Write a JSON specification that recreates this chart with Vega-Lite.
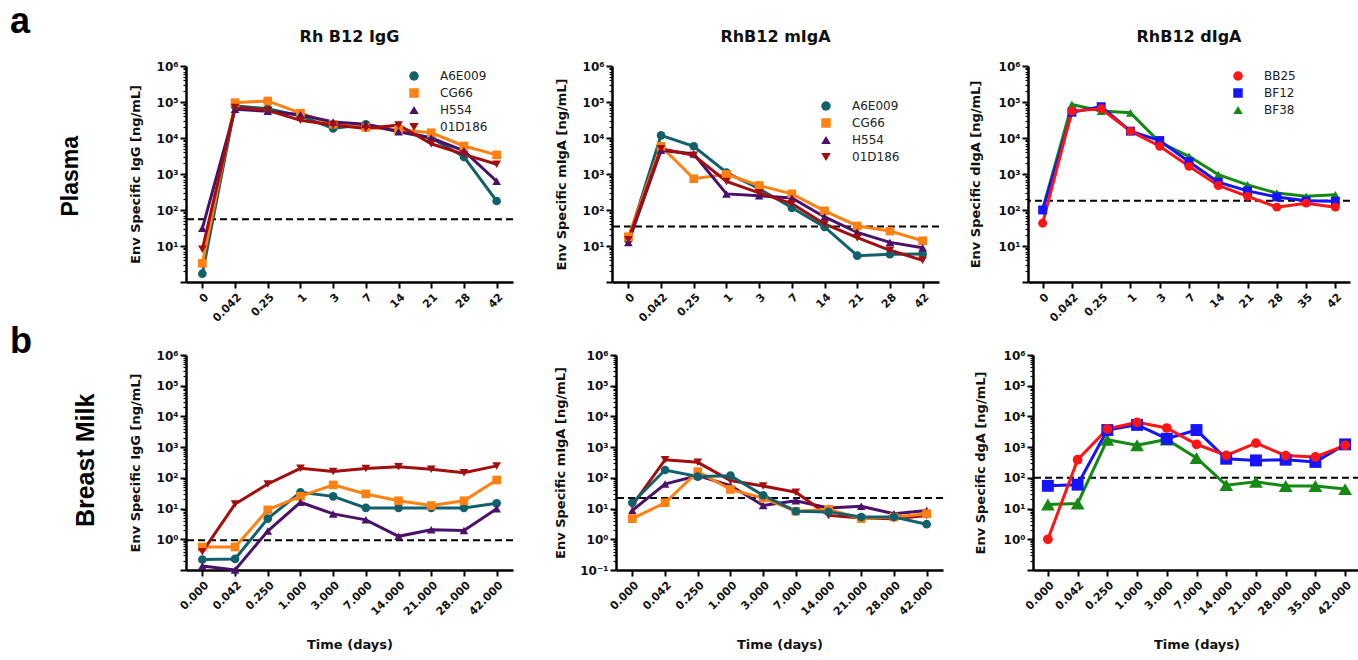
{
"$schema": "https://vega.github.io/schema/vega-lite/v6.json",
"padding": {"left": 10, "top": 4, "right": 0, "bottom": 0},
"config": {
  "view": {"stroke": null},
  "axis": {"grid": false, "domainColor": "#000", "domainWidth": 2.5, "tickColor": "#000", "labelColor": "#111", "labelFont": "DejaVu Sans", "labelFontWeight": "bold", "labelFontSize": 11, "titleFont": "DejaVu Sans", "titleFontSize": 13, "titleFontWeight": "bold", "titleColor": "#111", "labelOverlap": false},
  "axisY": {"labelFontSize": 12},
  "title": {"font": "DejaVu Sans", "fontSize": 16, "fontWeight": "bold", "color": "#111", "offset": 15},
  "legend": {"labelFont": "DejaVu Sans", "labelFontSize": 12, "labelColor": "#222", "symbolOpacity": 1, "symbolStrokeWidth": 0}
},
"spacing": 0,
"resolve": {"scale": {"color": "independent", "shape": "independent", "size": "independent"}, "legend": {"color": "independent", "shape": "independent", "size": "independent"}},
"vconcat": [
{
  "title": {"text": "a", "anchor": "start", "font": "Liberation Sans", "fontSize": 36, "fontWeight": "bold", "color": "#000", "offset": -12, "dx": -50},
  "resolve": {"scale": {"color": "independent", "shape": "independent", "size": "independent"}, "legend": {"color": "independent", "shape": "independent", "size": "independent"}},
  "vconcat": [{
    "title": {"text": "Plasma", "orient": "left", "anchor": "middle", "font": "Liberation Sans", "fontSize": 23, "fontWeight": "bold", "color": "#000", "offset": 46},
    "spacing": 41,
    "resolve": {"scale": {"color": "independent", "shape": "independent", "size": "independent"}, "legend": {"color": "independent", "shape": "independent", "size": "independent"}},
    "hconcat": [
    {
      "width": 327, "height": 216,
      "title": "Rh B12 IgG",
      "data": {"values": [
        {"t":"0","id":"A6E009","v":1.7},{"t":"0.042","id":"A6E009","v":78000},{"t":"0.25","id":"A6E009","v":65000},{"t":"1","id":"A6E009","v":41000},{"t":"3","id":"A6E009","v":18500},{"t":"7","id":"A6E009","v":24000},{"t":"14","id":"A6E009","v":16000},{"t":"21","id":"A6E009","v":10000},{"t":"28","id":"A6E009","v":3000},{"t":"42","id":"A6E009","v":178},
        {"t":"0","id":"CG66","v":3.3},{"t":"0.042","id":"CG66","v":96000},{"t":"0.25","id":"CG66","v":107000},{"t":"1","id":"CG66","v":49000},{"t":"3","id":"CG66","v":24000},{"t":"7","id":"CG66","v":19500},{"t":"14","id":"CG66","v":17000},{"t":"21","id":"CG66","v":14000},{"t":"28","id":"CG66","v":6000},{"t":"42","id":"CG66","v":3400},
        {"t":"0","id":"H554","v":31},{"t":"0.042","id":"H554","v":63000},{"t":"0.25","id":"H554","v":55000},{"t":"1","id":"H554","v":44000},{"t":"3","id":"H554","v":28000},{"t":"7","id":"H554","v":24000},{"t":"14","id":"H554","v":15000},{"t":"21","id":"H554","v":10000},{"t":"28","id":"H554","v":4400},{"t":"42","id":"H554","v":630},
        {"t":"0","id":"01D186","v":8.1},{"t":"0.042","id":"01D186","v":70000},{"t":"0.25","id":"01D186","v":59000},{"t":"1","id":"01D186","v":31000},{"t":"3","id":"01D186","v":23000},{"t":"7","id":"01D186","v":18500},{"t":"14","id":"01D186","v":23000},{"t":"21","id":"01D186","v":6900},{"t":"28","id":"01D186","v":3500},{"t":"42","id":"01D186","v":1860}
      ]},
      "encoding": {"y": {"field": "v", "type": "quantitative", "scale": {"type": "log", "domain": [1, 1000000], "nice": false},
        "axis": {"title": "Env Specific IgG [ng/mL]", "titlePadding": 14,
          "values": [1,2,3,4,5,6,7,8,9,10,20,30,40,50,60,70,80,90,100,200,300,400,500,600,700,800,900,1000,2000,3000,4000,5000,6000,7000,8000,9000,10000,20000,30000,40000,50000,60000,70000,80000,90000,100000,200000,300000,400000,500000,600000,700000,800000,900000,1000000],
          "labelExpr": "abs(log(datum.value)/LN10-round(log(datum.value)/LN10))<0.001 && datum.value>9 ? '10'+['⁻¹','⁰','¹','²','³','⁴','⁵','⁶'][round(log(datum.value)/LN10)+1] : ''",
          "tickSize": {"condition": {"test": "abs(log(datum.value)/LN10-round(log(datum.value)/LN10))<0.001", "value": 6}, "value": 3},
          "tickWidth": {"condition": {"test": "abs(log(datum.value)/LN10-round(log(datum.value)/LN10))<0.001", "value": 2}, "value": 1.2}}}},
      "layer": [
        {"data": {"values": [{"v": 55}]}, "mark": {"type": "rule", "strokeDash": [7, 4], "strokeWidth": 2, "color": "#000"}},
        {"mark": {"type": "line", "strokeWidth": 3},
         "encoding": {"x": {"field": "t", "type": "ordinal", "sort": ["0","0.042","0.25","1","3","7","14","21","28","42"], "scale": {"type": "point", "padding": 0.5}, "axis": {"title": null, "labelAngle": -45, "tickSize": 6, "tickWidth": 2, "labelPadding": 3}},
          "color": {"field": "id", "type": "nominal", "scale": {"domain": ["A6E009","CG66","H554","01D186"], "range": ["#12606b","#ff8112","#4a106a","#a30d0d"]},
            "legend": {"title": null, "orient": "none", "legendX": 222, "legendY": 4, "padding": 0, "symbolSize": 90, "rowPadding": 5, "labelOffset": 20}}}},
        {"mark": {"type": "point", "filled": true, "opacity": 1, "size": 75},
         "encoding": {"x": {"field": "t", "type": "ordinal", "sort": ["0","0.042","0.25","1","3","7","14","21","28","42"], "scale": {"type": "point", "padding": 0.5}},
          "color": {"field": "id", "type": "nominal", "scale": {"domain": ["A6E009","CG66","H554","01D186"], "range": ["#12606b","#ff8112","#4a106a","#a30d0d"]},
            "legend": {"title": null, "orient": "none", "legendX": 222, "legendY": 4, "padding": 0, "symbolSize": 90, "rowPadding": 5, "labelOffset": 20}},
          "shape": {"field": "id", "type": "nominal", "scale": {"domain": ["A6E009","CG66","H554","01D186"], "range": ["circle","square","triangle-up","triangle-down"]}, "legend": null}}}
      ]
    },
    {
      "spacing": 29,
      "resolve": {"scale": {"color": "independent", "shape": "independent", "size": "independent"}, "legend": {"color": "independent", "shape": "independent", "size": "independent"}},
      "hconcat": [
      {
        "width": 327, "height": 216,
        "title": "RhB12 mIgA",
        "data": {"values": [
          {"t":"0","id":"A6E009","v":15},{"t":"0.042","id":"A6E009","v":11800},{"t":"0.25","id":"A6E009","v":5900},{"t":"1","id":"A6E009","v":1100},{"t":"3","id":"A6E009","v":390},{"t":"7","id":"A6E009","v":115},{"t":"14","id":"A6E009","v":34},{"t":"21","id":"A6E009","v":5.4},{"t":"28","id":"A6E009","v":5.9},{"t":"42","id":"A6E009","v":6.0},
          {"t":"0","id":"CG66","v":18},{"t":"0.042","id":"CG66","v":5900},{"t":"0.25","id":"CG66","v":740},{"t":"1","id":"CG66","v":980},{"t":"3","id":"CG66","v":480},{"t":"7","id":"CG66","v":280},{"t":"14","id":"CG66","v":95},{"t":"21","id":"CG66","v":36},{"t":"28","id":"CG66","v":26},{"t":"42","id":"CG66","v":14},
          {"t":"0","id":"H554","v":12.6},{"t":"0.042","id":"H554","v":4600},{"t":"0.25","id":"H554","v":3600},{"t":"1","id":"H554","v":280},{"t":"3","id":"H554","v":250},{"t":"7","id":"H554","v":215},{"t":"14","id":"H554","v":64},{"t":"21","id":"H554","v":24},{"t":"28","id":"H554","v":12.6},{"t":"42","id":"H554","v":9},
          {"t":"0","id":"01D186","v":15},{"t":"0.042","id":"01D186","v":5000},{"t":"0.25","id":"01D186","v":3300},{"t":"1","id":"01D186","v":620},{"t":"3","id":"01D186","v":300},{"t":"7","id":"01D186","v":150},{"t":"14","id":"01D186","v":41},{"t":"21","id":"01D186","v":17},{"t":"28","id":"01D186","v":7.6},{"t":"42","id":"01D186","v":4}
        ]},
        "encoding": {"y": {"field": "v", "type": "quantitative", "scale": {"type": "log", "domain": [1, 1000000], "nice": false},
          "axis": {"title": "Env Specific mIgA [ng/mL]", "titlePadding": 14,
            "values": [1,2,3,4,5,6,7,8,9,10,20,30,40,50,60,70,80,90,100,200,300,400,500,600,700,800,900,1000,2000,3000,4000,5000,6000,7000,8000,9000,10000,20000,30000,40000,50000,60000,70000,80000,90000,100000,200000,300000,400000,500000,600000,700000,800000,900000,1000000],
            "labelExpr": "abs(log(datum.value)/LN10-round(log(datum.value)/LN10))<0.001 && datum.value>9 ? '10'+['⁻¹','⁰','¹','²','³','⁴','⁵','⁶'][round(log(datum.value)/LN10)+1] : ''",
            "tickSize": {"condition": {"test": "abs(log(datum.value)/LN10-round(log(datum.value)/LN10))<0.001", "value": 6}, "value": 3},
            "tickWidth": {"condition": {"test": "abs(log(datum.value)/LN10-round(log(datum.value)/LN10))<0.001", "value": 2}, "value": 1.2}}}},
        "layer": [
          {"data": {"values": [{"v": 35}]}, "mark": {"type": "rule", "strokeDash": [7, 4], "strokeWidth": 2, "color": "#000"}},
          {"mark": {"type": "line", "strokeWidth": 3},
           "encoding": {"x": {"field": "t", "type": "ordinal", "sort": ["0","0.042","0.25","1","3","7","14","21","28","42"], "scale": {"type": "point", "padding": 0.5}, "axis": {"title": null, "labelAngle": -45, "tickSize": 6, "tickWidth": 2, "labelPadding": 3}},
            "color": {"field": "id", "type": "nominal", "scale": {"domain": ["A6E009","CG66","H554","01D186"], "range": ["#12606b","#ff8112","#4a106a","#a30d0d"]},
              "legend": {"title": null, "orient": "none", "legendX": 208, "legendY": 34, "padding": 0, "symbolSize": 90, "rowPadding": 5, "labelOffset": 20}}}},
          {"mark": {"type": "point", "filled": true, "opacity": 1, "size": 75},
           "encoding": {"x": {"field": "t", "type": "ordinal", "sort": ["0","0.042","0.25","1","3","7","14","21","28","42"], "scale": {"type": "point", "padding": 0.5}},
            "color": {"field": "id", "type": "nominal", "scale": {"domain": ["A6E009","CG66","H554","01D186"], "range": ["#12606b","#ff8112","#4a106a","#a30d0d"]},
              "legend": {"title": null, "orient": "none", "legendX": 208, "legendY": 34, "padding": 0, "symbolSize": 90, "rowPadding": 5, "labelOffset": 20}},
            "shape": {"field": "id", "type": "nominal", "scale": {"domain": ["A6E009","CG66","H554","01D186"], "range": ["circle","square","triangle-up","triangle-down"]}, "legend": null}}}
        ]
      },
      {
        "width": 322, "height": 216,
        "title": "RhB12 dIgA",
        "data": {"values": [
          {"t":"0","id":"BF38","v":105},{"t":"0.042","id":"BF38","v":85000},{"t":"0.25","id":"BF38","v":56000},{"t":"1","id":"BF38","v":50000},{"t":"3","id":"BF38","v":7600},{"t":"7","id":"BF38","v":3100},{"t":"14","id":"BF38","v":960},{"t":"21","id":"BF38","v":500},{"t":"28","id":"BF38","v":295},{"t":"35","id":"BF38","v":240},{"t":"42","id":"BF38","v":265},
          {"t":"0","id":"BF12","v":100},{"t":"0.042","id":"BF12","v":52000},{"t":"0.25","id":"BF12","v":74000},{"t":"1","id":"BF12","v":15500},{"t":"3","id":"BF12","v":8500},{"t":"7","id":"BF12","v":2200},{"t":"14","id":"BF12","v":590},{"t":"21","id":"BF12","v":340},{"t":"28","id":"BF12","v":230},{"t":"35","id":"BF12","v":180},{"t":"42","id":"BF12","v":175},
          {"t":"0","id":"BB25","v":43},{"t":"0.042","id":"BB25","v":56000},{"t":"0.25","id":"BB25","v":65000},{"t":"1","id":"BB25","v":15500},{"t":"3","id":"BB25","v":5900},{"t":"7","id":"BB25","v":1630},{"t":"14","id":"BB25","v":480},{"t":"21","id":"BB25","v":240},{"t":"28","id":"BB25","v":120},{"t":"35","id":"BB25","v":155},{"t":"42","id":"BB25","v":120}
        ]},
        "encoding": {"y": {"field": "v", "type": "quantitative", "scale": {"type": "log", "domain": [1, 1000000], "nice": false},
          "axis": {"title": "Env Specific dIgA  [ng/mL]", "titlePadding": 16,
            "values": [1,2,3,4,5,6,7,8,9,10,20,30,40,50,60,70,80,90,100,200,300,400,500,600,700,800,900,1000,2000,3000,4000,5000,6000,7000,8000,9000,10000,20000,30000,40000,50000,60000,70000,80000,90000,100000,200000,300000,400000,500000,600000,700000,800000,900000,1000000],
            "labelExpr": "abs(log(datum.value)/LN10-round(log(datum.value)/LN10))<0.001 && datum.value>9 ? '10'+['⁻¹','⁰','¹','²','³','⁴','⁵','⁶'][round(log(datum.value)/LN10)+1] : ''",
            "tickSize": {"condition": {"test": "abs(log(datum.value)/LN10-round(log(datum.value)/LN10))<0.001", "value": 6}, "value": 3},
            "tickWidth": {"condition": {"test": "abs(log(datum.value)/LN10-round(log(datum.value)/LN10))<0.001", "value": 2}, "value": 1.2}}}},
        "layer": [
          {"data": {"values": [{"v": 180}]}, "mark": {"type": "rule", "strokeDash": [7, 4], "strokeWidth": 2, "color": "#000"}},
          {"mark": {"type": "line", "strokeWidth": 3},
           "encoding": {"x": {"field": "t", "type": "ordinal", "sort": ["0","0.042","0.25","1","3","7","14","21","28","35","42"], "scale": {"type": "point", "padding": 0.5}, "axis": {"title": null, "labelAngle": -45, "tickSize": 6, "tickWidth": 2, "labelPadding": 3}},
            "color": {"field": "id", "type": "nominal", "scale": {"domain": ["BB25","BF12","BF38"], "range": ["#ff1414","#1414ff","#148a14"]},
              "legend": {"title": null, "orient": "none", "legendX": 204, "legendY": 4, "padding": 0, "symbolSize": 90, "rowPadding": 5, "labelOffset": 20}}}},
          {"mark": {"type": "point", "filled": true, "opacity": 1, "size": 80},
           "encoding": {"x": {"field": "t", "type": "ordinal", "sort": ["0","0.042","0.25","1","3","7","14","21","28","35","42"], "scale": {"type": "point", "padding": 0.5}},
            "color": {"field": "id", "type": "nominal", "scale": {"domain": ["BB25","BF12","BF38"], "range": ["#ff1414","#1414ff","#148a14"]},
              "legend": {"title": null, "orient": "none", "legendX": 204, "legendY": 4, "padding": 0, "symbolSize": 90, "rowPadding": 5, "labelOffset": 20}},
            "shape": {"field": "id", "type": "nominal", "scale": {"domain": ["BB25","BF12","BF38"], "range": ["circle","square","triangle-up"]}, "legend": null}}}
        ]
      }
      ]
    }
    ]
  }]
},
{
  "title": {"text": "b", "anchor": "start", "font": "Liberation Sans", "fontSize": 36, "fontWeight": "bold", "color": "#000", "offset": -12, "dx": -64},
  "resolve": {"scale": {"color": "independent", "shape": "independent", "size": "independent"}, "legend": {"color": "independent", "shape": "independent", "size": "independent"}},
  "vconcat": [{
    "title": {"text": "Breast Milk", "orient": "left", "anchor": "middle", "font": "Liberation Sans", "fontSize": 25, "fontWeight": "bold", "color": "#000", "offset": 30, "dx": 40},
    "spacing": 40,
    "resolve": {"scale": {"color": "independent", "shape": "independent", "size": "independent"}, "legend": {"color": "independent", "shape": "independent", "size": "independent"}},
    "hconcat": [
    {
      "width": 327, "height": 215,
      "data": {"values": [
        {"t":"0.000","id":"A6E009","v":0.22},{"t":"0.042","id":"A6E009","v":0.23},{"t":"0.250","id":"A6E009","v":4.7},{"t":"1.000","id":"A6E009","v":34},{"t":"3.000","id":"A6E009","v":25},{"t":"7.000","id":"A6E009","v":10.5},{"t":"14.000","id":"A6E009","v":10.5},{"t":"21.000","id":"A6E009","v":10.5},{"t":"28.000","id":"A6E009","v":10.5},{"t":"42.000","id":"A6E009","v":14.8},
        {"t":"0.000","id":"CG66","v":0.56},{"t":"0.042","id":"CG66","v":0.56},{"t":"0.250","id":"CG66","v":9.1},{"t":"1.000","id":"CG66","v":25},{"t":"3.000","id":"CG66","v":59},{"t":"7.000","id":"CG66","v":30},{"t":"14.000","id":"CG66","v":18},{"t":"21.000","id":"CG66","v":12.5},{"t":"28.000","id":"CG66","v":18},{"t":"42.000","id":"CG66","v":85},
        {"t":"0.000","id":"H554","v":0.135},{"t":"0.042","id":"H554","v":0.1},{"t":"0.250","id":"H554","v":1.86},{"t":"1.000","id":"H554","v":16},{"t":"3.000","id":"H554","v":6.7},{"t":"7.000","id":"H554","v":4.3},{"t":"14.000","id":"H554","v":1.25},{"t":"21.000","id":"H554","v":2.05},{"t":"28.000","id":"H554","v":1.95},{"t":"42.000","id":"H554","v":9.8},
        {"t":"0.000","id":"01D186","v":0.39},{"t":"0.042","id":"01D186","v":14},{"t":"0.250","id":"01D186","v":63},{"t":"1.000","id":"01D186","v":205},{"t":"3.000","id":"01D186","v":162},{"t":"7.000","id":"01D186","v":200},{"t":"14.000","id":"01D186","v":230},{"t":"21.000","id":"01D186","v":190},{"t":"28.000","id":"01D186","v":148},{"t":"42.000","id":"01D186","v":245}
      ]},
      "encoding": {"y": {"field": "v", "type": "quantitative", "scale": {"type": "log", "domain": [0.1, 1000000], "nice": false},
        "axis": {"title": "Env Specific IgG [ng/mL]", "titlePadding": 14,
          "values": [0.1,0.2,0.3,0.4,0.5,0.6,0.7,0.8,0.9,1,2,3,4,5,6,7,8,9,10,20,30,40,50,60,70,80,90,100,200,300,400,500,600,700,800,900,1000,2000,3000,4000,5000,6000,7000,8000,9000,10000,20000,30000,40000,50000,60000,70000,80000,90000,100000,200000,300000,400000,500000,600000,700000,800000,900000,1000000],
          "labelExpr": "abs(log(datum.value)/LN10-round(log(datum.value)/LN10))<0.001 && datum.value>0.9 ? '10'+['⁻¹','⁰','¹','²','³','⁴','⁵','⁶'][round(log(datum.value)/LN10)+1] : ''",
          "tickSize": {"condition": {"test": "abs(log(datum.value)/LN10-round(log(datum.value)/LN10))<0.001", "value": 6}, "value": 3},
          "tickWidth": {"condition": {"test": "abs(log(datum.value)/LN10-round(log(datum.value)/LN10))<0.001", "value": 2}, "value": 1.2}}}},
      "layer": [
        {"data": {"values": [{"v": 0.93}]}, "mark": {"type": "rule", "strokeDash": [7, 4], "strokeWidth": 2, "color": "#000"}},
        {"mark": {"type": "line", "strokeWidth": 3},
         "encoding": {"x": {"field": "t", "type": "ordinal", "sort": ["0.000","0.042","0.250","1.000","3.000","7.000","14.000","21.000","28.000","42.000"], "scale": {"type": "point", "padding": 0.5}, "axis": {"title": "Time (days)", "titleFontSize": 13, "titlePadding": 22, "labelAngle": -45, "tickSize": 6, "tickWidth": 2, "labelPadding": 3}},
          "color": {"field": "id", "type": "nominal", "scale": {"domain": ["A6E009","CG66","H554","01D186"], "range": ["#12606b","#ff8112","#4a106a","#a30d0d"]}, "legend": null}}},
        {"mark": {"type": "point", "filled": true, "opacity": 1, "size": 75},
         "encoding": {"x": {"field": "t", "type": "ordinal", "sort": ["0.000","0.042","0.250","1.000","3.000","7.000","14.000","21.000","28.000","42.000"], "scale": {"type": "point", "padding": 0.5}},
          "color": {"field": "id", "type": "nominal", "scale": {"domain": ["A6E009","CG66","H554","01D186"], "range": ["#12606b","#ff8112","#4a106a","#a30d0d"]}, "legend": null},
          "shape": {"field": "id", "type": "nominal", "scale": {"domain": ["A6E009","CG66","H554","01D186"], "range": ["circle","square","triangle-up","triangle-down"]}, "legend": null}}}
      ]
    },
    {
      "spacing": 30,
      "resolve": {"scale": {"color": "independent", "shape": "independent", "size": "independent"}, "legend": {"color": "independent", "shape": "independent", "size": "independent"}},
      "hconcat": [
      {
        "width": 327, "height": 215,
        "data": {"values": [
          {"t":"0.000","id":"H554","v":8.7},{"t":"0.042","id":"H554","v":63},{"t":"0.250","id":"H554","v":118},{"t":"1.000","id":"H554","v":56},{"t":"3.000","id":"H554","v":12.6},{"t":"7.000","id":"H554","v":18},{"t":"14.000","id":"H554","v":10.5},{"t":"21.000","id":"H554","v":11.8},{"t":"28.000","id":"H554","v":6.8},{"t":"42.000","id":"H554","v":8.7},
          {"t":"0.000","id":"01D186","v":12.6},{"t":"0.042","id":"01D186","v":390},{"t":"0.250","id":"01D186","v":320},{"t":"1.000","id":"01D186","v":82},{"t":"3.000","id":"01D186","v":54},{"t":"7.000","id":"01D186","v":34},{"t":"14.000","id":"01D186","v":6},{"t":"21.000","id":"01D186","v":4.9},{"t":"28.000","id":"01D186","v":4.7},{"t":"42.000","id":"01D186","v":6},
          {"t":"0.000","id":"CG66","v":4.7},{"t":"0.042","id":"CG66","v":15.5},{"t":"0.250","id":"CG66","v":160},{"t":"1.000","id":"CG66","v":42},{"t":"3.000","id":"CG66","v":22},{"t":"7.000","id":"CG66","v":8.2},{"t":"14.000","id":"CG66","v":9.4},{"t":"21.000","id":"CG66","v":4.7},{"t":"28.000","id":"CG66","v":5.3},{"t":"42.000","id":"CG66","v":6.8},
          {"t":"0.000","id":"A6E009","v":15.5},{"t":"0.042","id":"A6E009","v":180},{"t":"0.250","id":"A6E009","v":110},{"t":"1.000","id":"A6E009","v":118},{"t":"3.000","id":"A6E009","v":27},{"t":"7.000","id":"A6E009","v":8.2},{"t":"14.000","id":"A6E009","v":7.8},{"t":"21.000","id":"A6E009","v":5.3},{"t":"28.000","id":"A6E009","v":5.3},{"t":"42.000","id":"A6E009","v":3.1}
        ]},
        "encoding": {"y": {"field": "v", "type": "quantitative", "scale": {"type": "log", "domain": [0.1, 1000000], "nice": false},
          "axis": {"title": "Env Specific mIgA [ng/mL]", "titlePadding": 12,
            "values": [0.1,0.2,0.3,0.4,0.5,0.6,0.7,0.8,0.9,1,2,3,4,5,6,7,8,9,10,20,30,40,50,60,70,80,90,100,200,300,400,500,600,700,800,900,1000,2000,3000,4000,5000,6000,7000,8000,9000,10000,20000,30000,40000,50000,60000,70000,80000,90000,100000,200000,300000,400000,500000,600000,700000,800000,900000,1000000],
            "labelExpr": "abs(log(datum.value)/LN10-round(log(datum.value)/LN10))<0.001 ? '10'+['⁻¹','⁰','¹','²','³','⁴','⁵','⁶'][round(log(datum.value)/LN10)+1] : ''",
            "tickSize": {"condition": {"test": "abs(log(datum.value)/LN10-round(log(datum.value)/LN10))<0.001", "value": 6}, "value": 3},
            "tickWidth": {"condition": {"test": "abs(log(datum.value)/LN10-round(log(datum.value)/LN10))<0.001", "value": 2}, "value": 1.2}}}},
        "layer": [
          {"data": {"values": [{"v": 22}]}, "mark": {"type": "rule", "strokeDash": [7, 4], "strokeWidth": 2, "color": "#000"}},
          {"mark": {"type": "line", "strokeWidth": 3},
           "encoding": {"x": {"field": "t", "type": "ordinal", "sort": ["0.000","0.042","0.250","1.000","3.000","7.000","14.000","21.000","28.000","42.000"], "scale": {"type": "point", "padding": 0.5}, "axis": {"title": "Time (days)", "titleFontSize": 13, "titlePadding": 22, "labelAngle": -45, "tickSize": 6, "tickWidth": 2, "labelPadding": 3}},
            "color": {"field": "id", "type": "nominal", "scale": {"domain": ["A6E009","CG66","H554","01D186"], "range": ["#12606b","#ff8112","#4a106a","#a30d0d"]}, "legend": null}}},
          {"mark": {"type": "point", "filled": true, "opacity": 1, "size": 75},
           "encoding": {"x": {"field": "t", "type": "ordinal", "sort": ["0.000","0.042","0.250","1.000","3.000","7.000","14.000","21.000","28.000","42.000"], "scale": {"type": "point", "padding": 0.5}},
            "color": {"field": "id", "type": "nominal", "scale": {"domain": ["A6E009","CG66","H554","01D186"], "range": ["#12606b","#ff8112","#4a106a","#a30d0d"]}, "legend": null},
            "shape": {"field": "id", "type": "nominal", "scale": {"domain": ["A6E009","CG66","H554","01D186"], "range": ["circle","square","triangle-up","triangle-down"]}, "legend": null}}}
        ]
      },
      {
        "width": 327, "height": 215,
        "data": {"values": [
          {"t":"0.000","id":"BF38","v":13.5},{"t":"0.042","id":"BF38","v":14.7},{"t":"0.250","id":"BF38","v":1750},{"t":"1.000","id":"BF38","v":1150},{"t":"3.000","id":"BF38","v":1780},{"t":"7.000","id":"BF38","v":445},{"t":"14.000","id":"BF38","v":58},{"t":"21.000","id":"BF38","v":74},{"t":"28.000","id":"BF38","v":54},{"t":"35.000","id":"BF38","v":54},{"t":"42.000","id":"BF38","v":43},
          {"t":"0.000","id":"BF12","v":55},{"t":"0.042","id":"BF12","v":60},{"t":"0.250","id":"BF12","v":3600},{"t":"1.000","id":"BF12","v":5300},{"t":"3.000","id":"BF12","v":1880},{"t":"7.000","id":"BF12","v":3600},{"t":"14.000","id":"BF12","v":420},{"t":"21.000","id":"BF12","v":370},{"t":"28.000","id":"BF12","v":390},{"t":"35.000","id":"BF12","v":330},{"t":"42.000","id":"BF12","v":1230},
          {"t":"0.000","id":"BB25","v":1.0},{"t":"0.042","id":"BB25","v":390},{"t":"0.250","id":"BB25","v":3900},{"t":"1.000","id":"BB25","v":6400},{"t":"3.000","id":"BB25","v":4200},{"t":"7.000","id":"BB25","v":1240},{"t":"14.000","id":"BB25","v":540},{"t":"21.000","id":"BB25","v":1350},{"t":"28.000","id":"BB25","v":530},{"t":"35.000","id":"BB25","v":480},{"t":"42.000","id":"BB25","v":1150}
        ]},
        "encoding": {"y": {"field": "v", "type": "quantitative", "scale": {"type": "log", "domain": [0.1, 1000000], "nice": false},
          "axis": {"title": "Env Specific dgA [ng/mL]", "titlePadding": 16,
            "values": [0.1,0.2,0.3,0.4,0.5,0.6,0.7,0.8,0.9,1,2,3,4,5,6,7,8,9,10,20,30,40,50,60,70,80,90,100,200,300,400,500,600,700,800,900,1000,2000,3000,4000,5000,6000,7000,8000,9000,10000,20000,30000,40000,50000,60000,70000,80000,90000,100000,200000,300000,400000,500000,600000,700000,800000,900000,1000000],
            "labelExpr": "abs(log(datum.value)/LN10-round(log(datum.value)/LN10))<0.001 && datum.value>0.9 ? '10'+['⁻¹','⁰','¹','²','³','⁴','⁵','⁶'][round(log(datum.value)/LN10)+1] : ''",
            "tickSize": {"condition": {"test": "abs(log(datum.value)/LN10-round(log(datum.value)/LN10))<0.001", "value": 6}, "value": 3},
            "tickWidth": {"condition": {"test": "abs(log(datum.value)/LN10-round(log(datum.value)/LN10))<0.001", "value": 2}, "value": 1.2}}}},
        "layer": [
          {"data": {"values": [{"v": 100}]}, "mark": {"type": "rule", "strokeDash": [7, 4], "strokeWidth": 2, "color": "#000"}},
          {"mark": {"type": "line", "strokeWidth": 3},
           "encoding": {"x": {"field": "t", "type": "ordinal", "sort": ["0.000","0.042","0.250","1.000","3.000","7.000","14.000","21.000","28.000","35.000","42.000"], "scale": {"type": "point", "padding": 0.5}, "axis": {"title": "Time (days)", "titleFontSize": 13, "titlePadding": 22, "labelAngle": -45, "tickSize": 6, "tickWidth": 2, "labelPadding": 3}},
            "color": {"field": "id", "type": "nominal", "scale": {"domain": ["BB25","BF12","BF38"], "range": ["#ff1414","#1414ff","#148a14"]}, "legend": null}}},
          {"mark": {"type": "point", "filled": true, "opacity": 1},
           "encoding": {"x": {"field": "t", "type": "ordinal", "sort": ["0.000","0.042","0.250","1.000","3.000","7.000","14.000","21.000","28.000","35.000","42.000"], "scale": {"type": "point", "padding": 0.5}},
            "color": {"field": "id", "type": "nominal", "scale": {"domain": ["BB25","BF12","BF38"], "range": ["#ff1414","#1414ff","#148a14"]}, "legend": null},
            "size": {"field": "id", "type": "nominal", "scale": {"domain": ["BB25","BF12","BF38"], "range": [95, 190, 70]}, "legend": null},
            "shape": {"field": "id", "type": "nominal", "scale": {"domain": ["BB25","BF12","BF38"], "range": ["circle","square","triangle-up"]}, "legend": null}}}
        ]
      }
      ]
    }
    ]
  }]
}
]
}
